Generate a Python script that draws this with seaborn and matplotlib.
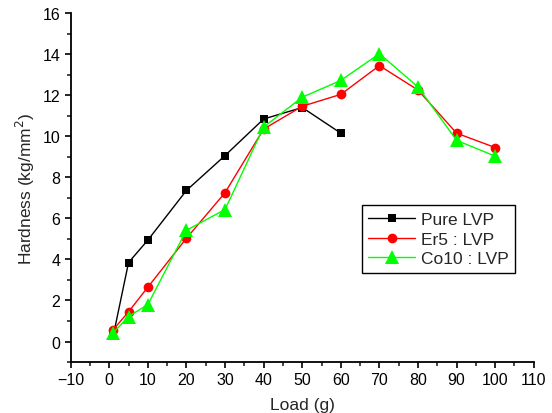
import matplotlib
matplotlib.use("Agg")
from matplotlib import pyplot as plt
from matplotlib.ticker import MultipleLocator
import seaborn as sns
import pandas as pd

# Hardness vs load readings
pure_load = [1, 5, 10, 20, 30, 40, 50, 60]
pure_hardness = [0.25, 3.85, 4.94, 7.36, 9.06, 10.84, 11.4, 10.15]

er5_load = [1, 5, 10, 20, 30, 40, 50, 60, 70, 80, 90, 100]
er5_hardness = [0.57, 1.45, 2.65, 5.03, 7.25, 10.35, 11.46, 12.04, 13.44, 12.25, 10.15, 9.45]

co10_load = [1, 5, 10, 20, 30, 40, 50, 60, 70, 80, 90, 100]
co10_hardness = [0.42, 1.22, 1.8, 5.42, 6.43, 10.45, 11.9, 12.72, 14.02, 12.4, 9.8, 9.03]

sns.set_style("ticks")
plt.rcParams['font.family'] = ['Liberation Sans', 'DejaVu Sans']

series = [
    ('Pure LVP', pure_load, pure_hardness, 'black', 's', 5.5),
    ('Er5 : LVP', er5_load, er5_hardness, '#ff0000', 'o', 7),
    ('Co10 : LVP', co10_load, co10_hardness, '#00ff00', '^', 9.5),
]

fig = plt.figure(figsize=(5.52, 4.14), dpi=100)
ax = fig.add_axes([0.128, 0.123, 0.839, 0.843])

for name, xs, ys, color, marker, size in series:
    df = pd.DataFrame({'Load': xs, 'Hardness': ys})
    sns.lineplot(data=df, x='Load', y='Hardness', ax=ax, color=color,
                 marker=marker, markersize=size, markeredgewidth=0,
                 linewidth=1, label=name)

ax.set_xlim(-10, 110)
ax.set_ylim(-1, 16)
ax.xaxis.set_major_locator(MultipleLocator(10))
ax.xaxis.set_minor_locator(MultipleLocator(5))
ax.yaxis.set_major_locator(MultipleLocator(2))
ax.yaxis.set_minor_locator(MultipleLocator(1))
ax.tick_params(which='major', direction='out', length=4.5, width=1.2, labelsize=11.5,
               colors='black', pad=3)
ax.tick_params(which='minor', direction='out', length=3, width=1.2)
for s in ['top', 'right']:
    ax.spines[s].set_visible(False)
for s in ['left', 'bottom']:
    ax.spines[s].set_linewidth(1.3)
    ax.spines[s].set_color('black')

ax.set_xlabel('Load (g)', fontsize=12.5, labelpad=7)
ax.set_ylabel('Hardness (kg/mm$^2$)', fontsize=12.5, labelpad=4)

leg = ax.legend(loc='upper left', bbox_to_anchor=(0.628, 0.450), fontsize=12.5,
                frameon=True, fancybox=False, edgecolor='black', framealpha=1,
                handlelength=2.7, handletextpad=0.3, labelspacing=0.25,
                borderpad=0.4, borderaxespad=0)
leg.get_frame().set_linewidth(1)

fig.savefig('out.png', dpi=100)
